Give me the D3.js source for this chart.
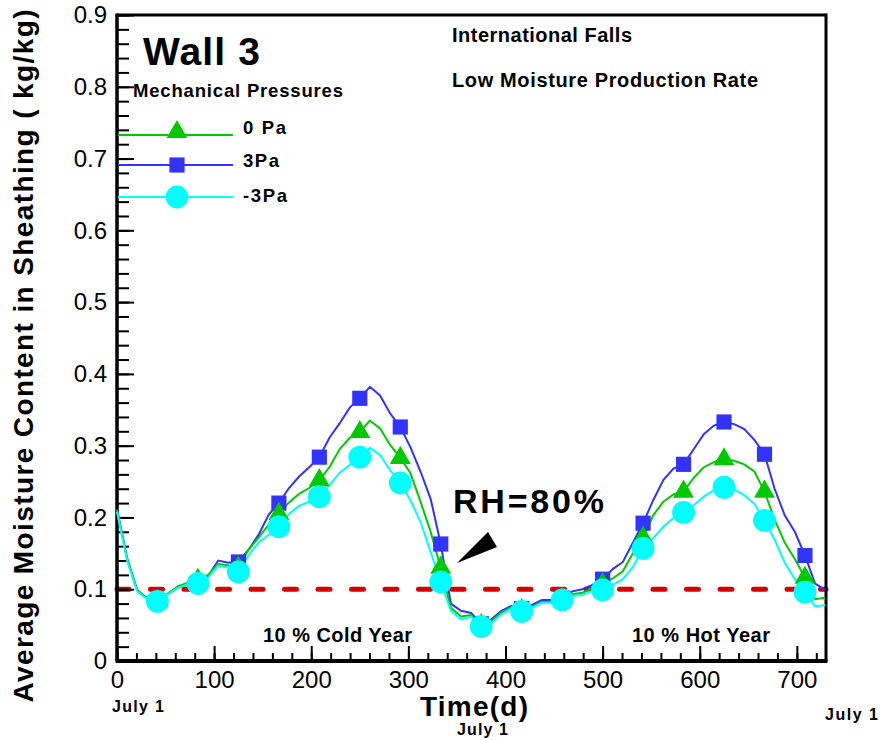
<!DOCTYPE html>
<html>
<head>
<meta charset="utf-8">
<script src="https://cdn.jsdelivr.net/npm/d3@7"></script>
<style>
body { margin: 0; background: #fff; }
text { font-family: "Liberation Sans", Arial, sans-serif; }
</style>
</head>
<body>
<div id="chart"></div>
<script>
// sample every 250 h (10.42 d), markers every 1000 h
const days = d3.range(71).map(i => i * 250 / 24)

const series_names = ["0 Pa", "3Pa", "-3Pa"]
const series_colors = ["#00c800", "#3333ff", "#00ffff"]
const series_symbols = [d3.symbolTriangle, d3.symbolSquare, d3.symbolCircle]

const mc_0pa = [0.21, 0.142, 0.098, 0.087, 0.084, 0.094, 0.104, 0.109, 0.113, 0.12,
    0.135, 0.133, 0.13, 0.155, 0.172, 0.19, 0.205, 0.221, 0.233, 0.241,
    0.252, 0.27, 0.295, 0.311, 0.319, 0.335, 0.324, 0.301, 0.283, 0.262,
    0.222, 0.18, 0.13, 0.074, 0.062, 0.064, 0.05, 0.056, 0.067, 0.075,
    0.071, 0.076, 0.082, 0.083, 0.087, 0.093, 0.095, 0.102, 0.107, 0.115,
    0.125, 0.15, 0.172, 0.203, 0.222, 0.232, 0.236, 0.255, 0.27, 0.277,
    0.281, 0.279, 0.274, 0.264, 0.236, 0.197, 0.165, 0.142, 0.116, 0.086, 0.088]
const mc_3pa = [0.212, 0.143, 0.099, 0.087, 0.082, 0.093, 0.102, 0.107, 0.109, 0.118,
    0.14, 0.137, 0.138, 0.155, 0.176, 0.204, 0.22, 0.241, 0.257, 0.27,
    0.284, 0.311, 0.331, 0.353, 0.366, 0.382, 0.37, 0.345, 0.326, 0.298,
    0.264, 0.226, 0.163, 0.08, 0.07, 0.067, 0.052, 0.058, 0.07, 0.077,
    0.073, 0.078, 0.085, 0.085, 0.088, 0.097, 0.1, 0.106, 0.114, 0.128,
    0.138, 0.165, 0.192, 0.224, 0.252, 0.268, 0.274, 0.295, 0.316, 0.328,
    0.333, 0.33, 0.323, 0.308, 0.288, 0.24, 0.203, 0.18, 0.147, 0.108, 0.099]
const mc_m3pa = [0.208, 0.14, 0.097, 0.086, 0.083, 0.093, 0.102, 0.107, 0.108, 0.116,
    0.133, 0.13, 0.124, 0.147, 0.165, 0.176, 0.187, 0.205, 0.216, 0.222,
    0.229, 0.245, 0.262, 0.273, 0.284, 0.297, 0.287, 0.266, 0.248, 0.224,
    0.194, 0.152, 0.11, 0.07, 0.058, 0.062, 0.048, 0.053, 0.065, 0.073,
    0.069, 0.074, 0.081, 0.081, 0.085, 0.091, 0.092, 0.098, 0.099, 0.106,
    0.114, 0.131, 0.157, 0.171, 0.187, 0.199, 0.207, 0.217, 0.229, 0.238,
    0.242, 0.239, 0.231, 0.219, 0.196, 0.169, 0.137, 0.114, 0.096, 0.076, 0.078]
const series_values = [mc_0pa, mc_3pa, mc_m3pa]

const x_ticks = [0, 100, 200, 300, 400, 500, 600, 700]
const y_ticks = [0, 0.1, 0.2, 0.3, 0.4, 0.5, 0.6, 0.7, 0.8, 0.9]
const rh80 = 0.1

const width = 883, height = 740
const margin = { top: 15, right: 57, bottom: 79, left: 117 }
const w = width - margin.left - margin.right,
    h = height - margin.top - margin.bottom

const svg = d3.select("#chart").append("svg")
    .attr("width", width).attr("height", height)
const g = svg.append("g").attr("transform", `translate(${margin.left},${margin.top})`)

const x = d3.scaleLinear().domain([0, 730]).range([0, w])
const y = d3.scaleLinear().domain([0, 0.9]).range([h, 0])

// RH=80% line (under the ticks)
g.append("line").attr("x1", x(0)).attr("x2", w).attr("y1", y(rh80)).attr("y2", y(rh80))
    .attr("stroke", "#d40000").attr("stroke-width", 5).attr("stroke-linecap", "round")
    .attr("stroke-dasharray", "12,21.5")

// frame
g.append("line").attr("x1", 0).attr("x2", w).attr("y1", 0).attr("y2", 0)
    .attr("stroke", "#000").attr("stroke-width", 3)
g.append("line").attr("x1", w).attr("x2", w).attr("y1", -1.5).attr("y2", h)
    .attr("stroke", "#000").attr("stroke-width", 3)

// axes with inward ticks
const xMinor = g.append("g").attr("transform", `translate(0,${h})`)
    .call(d3.axisTop(x).tickValues(d3.range(0, 731, 20)).tickSize(8).tickFormat(""))
const xMajor = g.append("g").attr("transform", `translate(0,${h})`)
    .call(d3.axisTop(x).tickValues(x_ticks).tickSize(15).tickFormat(""))
const xLabels = g.append("g").attr("transform", `translate(0,${h})`)
    .call(d3.axisBottom(x).tickValues(x_ticks).tickSize(0).tickPadding(10).tickFormat(d3.format("d")))
const yMinor = g.append("g")
    .call(d3.axisRight(y).tickValues(d3.range(0, 0.9001, 0.02)).tickSize(12).tickFormat(""))
const yMajor = g.append("g")
    .call(d3.axisRight(y).tickValues(y_ticks).tickSize(17).tickFormat(""))
const yLabels = g.append("g")
    .call(d3.axisLeft(y).tickValues(y_ticks).tickSize(0).tickPadding(10).tickFormat(d => d === 0 ? "0" : d3.format(".1f")(d)))

for (const ax of [xMinor, xMajor, xLabels, yMinor, yMajor, yLabels]) {
    ax.select(".domain").remove()
    ax.selectAll("line").attr("stroke", "#000").attr("stroke-width", 2)
    ax.selectAll("text").attr("font-size", 24).attr("fill", "#000")
        .style("font-family", "'Liberation Sans', Arial, sans-serif")
}
g.append("line").attr("x1", -1.5).attr("x2", w + 1.5).attr("y1", h).attr("y2", h)
    .attr("stroke", "#000").attr("stroke-width", 4)
g.append("line").attr("x1", 0).attr("x2", 0).attr("y1", -1.5).attr("y2", h)
    .attr("stroke", "#000").attr("stroke-width", 3.5)

// series: blue, green, then cyan on top
const line = d3.line().x((d, i) => x(days[i])).y(d => y(d))
const order = [1, 0, 2]
for (const k of order) {
    g.append("path").datum(series_values[k]).attr("d", line)
        .attr("fill", "none").attr("stroke", series_colors[k]).attr("stroke-width", 2)
}
const sizes = [190, 230, 410]
for (const k of order) {
    const pts = series_values[k].map((v, i) => ({ d: days[i], v: v, i: i })).filter(p => p.i > 0 && p.i % 4 === 0)
    g.selectAll(null).data(pts).join("path")
        .attr("transform", p => `translate(${x(p.d)},${y(p.v)})`)
        .attr("d", d3.symbol().type(series_symbols[k]).size(sizes[k]))
        .attr("fill", series_colors[k])
}

function label(xp, yp, txt, size, len, anchor) {
    const t = svg.append("text").attr("x", xp).attr("y", yp).attr("font-size", size)
        .attr("font-weight", "bold").attr("text-anchor", anchor || "start").text(txt)
    if (len) t.attr("textLength", len).attr("lengthAdjust", "spacing")
    return t
}

// legend
label(143, 65, "Wall 3", 39, 117)
label(133, 97, "Mechanical Pressures", 18.5, 210)
const legendY = [135, 165, 197]
const legendTextY = [134, 167, 202]
const legendLen = [43, 36, 44]
series_names.forEach((name, k) => {
    svg.append("line").attr("x1", 118).attr("x2", 233).attr("y1", legendY[k]).attr("y2", legendY[k])
        .attr("stroke", series_colors[k]).attr("stroke-width", 2)
    svg.append("path").attr("transform", `translate(177,${legendY[k] - (k === 0 ? 3 : 0)})`)
        .attr("d", d3.symbol().type(series_symbols[k]).size(sizes[k])).attr("fill", series_colors[k])
    label(243, legendTextY[k], name, 18.5, legendLen[k])
})

// annotations
label(452, 42, "International Falls", 20, 180)
label(452, 87, "Low Moisture Production Rate", 20, 306)
label(453, 513, "RH=80%", 34, 151)
svg.append("path").attr("d", "M457,563 L488,532 L497,547 Z").attr("fill", "#000")
label(263, 642, "10 % Cold Year", 20, 149)
label(632, 642, "10 % Hot Year", 20, 138)

// axis titles
svg.append("text").attr("transform", "translate(33,356) rotate(-90)").attr("text-anchor", "middle")
    .attr("font-size", 28).attr("font-weight", "bold")
    .attr("textLength", 693).attr("lengthAdjust", "spacing")
    .text("Average Moisture Content in Sheathing ( kg/kg)")
label(474, 716, "Time(d)", 28, 108, "middle")
label(112, 712, "July 1", 16, 52)
label(457, 735, "July 1", 16, 51)
label(825, 720, "July 1", 16, 53)
</script>
</body>
</html>
